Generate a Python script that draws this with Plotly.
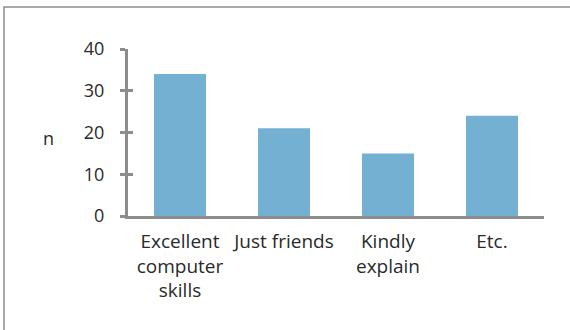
import plotly.graph_objects as go

categories = ["Excellent<br>computer<br>skills", "Just friends", "Kindly<br>explain", "Etc."]
values = [34, 21, 15, 24]
y_ticks = [0, 10, 20, 30, 40]

W, H = 570, 330
L, R, T, B = 128, 26, 49, 114
pw, ph = W - L - R, H - T - B

def px_x(p):
    return (p - L) / pw

def px_y(p):
    return (H - B - p) / ph

FONT = "Open Sans"
AX = "#8c8c8c"
TXT = "#2a2a2a"

fig = go.Figure()
fig.add_trace(go.Bar(x=categories, y=values, marker_color="#73b0d1", width=0.5,
                     marker_line_width=0))

fig.update_layout(
    width=W, height=H,
    margin=dict(l=L, r=R, t=T, b=B),
    paper_bgcolor="white", plot_bgcolor="white",
    showlegend=False,
    font=dict(family=FONT, size=18, color=TXT),
    bargap=0.5,
    xaxis=dict(range=[-0.5, 3.5], showline=True, linecolor=AX, linewidth=3,
               ticks="", showgrid=False, zeroline=False,
               tickfont=dict(size=19), ticklabelstandoff=6),
    yaxis=dict(range=[0, 40], tickvals=y_ticks, showline=True, linecolor=AX,
               linewidth=3, ticks="outside", ticklen=5, tickwidth=3, tickcolor=AX,
               showgrid=False, zeroline=False, tickfont=dict(size=18),
               ticklabelstandoff=12),
    yaxis2=dict(range=[0, 40], tickvals=y_ticks, overlaying="y", side="left",
                showline=False, ticks="inside", ticklen=5, tickwidth=3, tickcolor=AX,
                showticklabels=False, showgrid=False, zeroline=False),
)
fig.add_trace(go.Scatter(x=[None], y=[None], yaxis="y2", showlegend=False))

fig.add_annotation(text="n", xref="paper", yref="paper", x=px_x(48), y=px_y(138),
                   xanchor="center", yanchor="middle",
                   showarrow=False, font=dict(size=18, family=FONT, color=TXT))

fig.add_shape(type="rect", xref="paper", yref="paper",
              x0=px_x(4), x1=px_x(600), y0=px_y(360), y1=px_y(7),
              line=dict(color="#8c8c8c", width=1.5), fillcolor="rgba(0,0,0,0)", layer="below")

fig.write_html("out.html")
